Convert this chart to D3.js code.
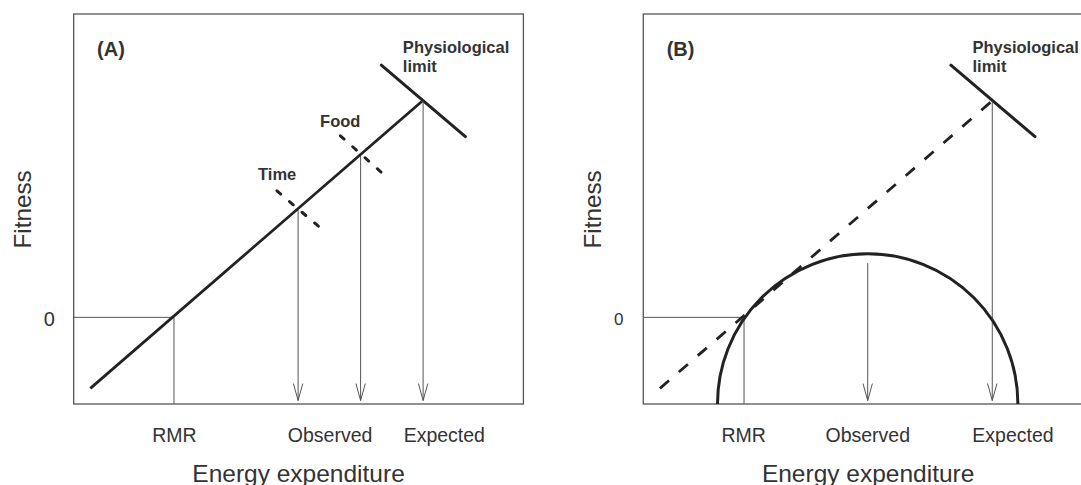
<!DOCTYPE html>
<html>
<head>
<meta charset="utf-8">
<script src="https://cdn.jsdelivr.net/npm/d3@7/dist/d3.min.js"></script>
<style>
    body { margin: 0; background: #fff; }
    svg { display: block; }
    text { font-family: 'Liberation Sans', Arial, sans-serif; fill: #333; }
</style>
</head>
<body>
<svg id="svg0" width="1081" height="485"></svg>
<script>

// values, in arbitrary energy (x) / fitness (y) units
var panelNames = ['(A)', '(B)'];
var tickLabels = ['RMR', 'Observed', 'Expected'];
var tickPosA = [2.23, 5.69, 8.23];
var tickPosB = [2.22, 4.98, 8.21];

var fitnessLine = [{x: 0.37, y: -1.64}, {x: 2.23, y: 0}, {x: 7.74, y: 4.98}];
var rmrA = {x: 2.23, y: 0};
var rmrB = {x: 2.24, y: 0};
var limitBar = [{x: 6.84, y: 5.82}, {x: 8.71, y: 4.17}];
var timeMark = [{x: 4.52, y: 2.92}, {x: 5.50, y: 2.05}];
var foodMark = [{x: 5.93, y: 4.19}, {x: 6.88, y: 3.31}];
var arrowsA = [{x: 4.99, y: 2.48}, {x: 6.38, y: 3.73}, {x: 7.77, y: 4.98}];
var arrowsB = [{x: 4.99, y: 1.25}, {x: 7.76, y: 4.98}];
var optimumArc = {x: 4.99, y: -2, r: 3.34};
var arrowFloor = -1.92;

var constraintLabels = [{text: 'Time', x: 4.10, y: 3.17}, {text: 'Food', x: 5.48, y: 4.39}];
var limitLabel = ['Physiological', 'limit'];
var limitLabelPos = {x: 7.32, y: 6.10};
var panelLabelPos = {x: 0.52, y: 6.02};

var x = d3.scaleLinear().domain([0, 10]).range([0, 449.7]);
var y = d3.scaleLinear().domain([-2, 7]).range([404, 14]);

var line = d3.line()
    .x(function(d){ return x(d.x); })
    .y(function(d){ return y(d.y); });

var svg = d3.select('#svg0');

function drawPanel(left, name, ticks, rmr, zeroSize){

    var g = svg.append('g')
        .attr('transform', 'translate(' + left + ',0)');

    //frame
    g.append('rect')
        .attr('x', x(0))
        .attr('y', y(7))
        .attr('width', x(10) - x(0))
        .attr('height', y(-2) - y(7))
        .attr('fill', 'none')
        .attr('stroke', '#555')
        .attr('stroke-width', 1.3);

    //zero fitness guide and RMR drop line
    g.append('path')
        .attr('d', line([{x: 0, y: 0}, rmr, {x: rmr.x, y: -2}]))
        .attr('fill', 'none')
        .attr('stroke', '#555')
        .attr('stroke-width', 1);

    //tick labels
    var xAxis = d3.axisBottom(x)
        .tickValues(ticks)
        .tickSize(0)
        .tickFormat(function(d, i){ return tickLabels[i]; });

    var ax = g.append('g')
        .attr('transform', 'translate(0,442)')
        .call(xAxis);
    ax.select('.domain').remove();
    ax.selectAll('text')
        .attr('y', 0)
        .attr('dy', null)
        .style('font-size', '19.5px');

    var yAxis = d3.axisLeft(y)
        .tickValues([0])
        .tickSize(0)
        .tickFormat(d3.format('d'));

    var ay = g.append('g').call(yAxis);
    ay.select('.domain').remove();
    ay.selectAll('text')
        .attr('x', -24.5)
        .attr('dy', zeroSize * 0.43)
        .attr('text-anchor', 'middle')
        .style('font-size', zeroSize + 'px');

    //axis titles
    g.append('text')
        .attr('x', (x(0) + x(10)) / 2)
        .attr('y', 481.5)
        .attr('text-anchor', 'middle')
        .style('font-size', '24.5px')
        .text('Energy expenditure');

    g.append('text')
        .attr('transform', 'translate(-42.2,' + y(2.49) + ') rotate(-90)')
        .attr('text-anchor', 'middle')
        .style('font-size', '24.3px')
        .text('Fitness');

    //panel letter
    g.append('text')
        .attr('x', x(panelLabelPos.x))
        .attr('y', y(panelLabelPos.y))
        .style('font-size', '20px')
        .style('font-weight', 'bold')
        .text(name);

    //physiological limit
    g.append('path')
        .attr('d', line(limitBar))
        .attr('stroke', '#222')
        .attr('stroke-width', 3)
        .attr('stroke-linecap', 'round');

    g.selectAll('.limitText')
        .data(limitLabel)
        .enter()
        .append('text')
        .attr('class', 'limitText')
        .attr('x', x(limitLabelPos.x))
        .attr('y', function(d, i){ return y(limitLabelPos.y) + i * 19; })
        .style('font-size', '16.5px')
        .style('font-weight', 'bold')
        .text(function(d){ return d; });

    return g;
}

function drawArrows(g, data){
    g.selectAll('.arrow')
        .data(data)
        .enter()
        .append('path')
        .attr('class', 'arrow')
        .attr('d', function(d){
            var tx = x(d.x), ty = y(arrowFloor);
            return 'M' + tx + ',' + y(d.y) + 'L' + tx + ',' + ty +
                'M' + (tx - 4.7) + ',' + (ty - 17) + 'L' + tx + ',' + ty + 'L' + (tx + 4.7) + ',' + (ty - 17);
        })
        .attr('fill', 'none')
        .attr('stroke', '#555')
        .attr('stroke-width', 1);
}

// panel A
var gA = drawPanel(73.7, panelNames[0], tickPosA, rmrA, 20);

drawArrows(gA, arrowsA);

gA.append('path')
    .attr('d', line([fitnessLine[0], fitnessLine[2]]))
    .attr('stroke', '#222')
    .attr('stroke-width', 2.8);

gA.selectAll('.constraint')
    .data([timeMark, foodMark])
    .enter()
    .append('path')
    .attr('class', 'constraint')
    .attr('d', function(d){ return line(d); })
    .attr('stroke', '#222')
    .attr('stroke-width', 3)
    .attr('stroke-linecap', 'round')
    .attr('stroke-dasharray', '5,11.5');

gA.selectAll('.constraintText')
    .data(constraintLabels)
    .enter()
    .append('text')
    .attr('class', 'constraintText')
    .attr('x', function(d){ return x(d.x); })
    .attr('y', function(d){ return y(d.y); })
    .style('font-size', '16.5px')
    .style('font-weight', 'bold')
    .text(function(d){ return d.text; });

// panel B
var gB = drawPanel(643.3, panelNames[1], tickPosB, rmrB, 17);

drawArrows(gB, arrowsB);

var arcPath = d3.path();
var cx = x(optimumArc.x), cy = y(optimumArc.y), r = x(optimumArc.r) - x(0);
arcPath.moveTo(cx - r, cy);
arcPath.arc(cx, cy, r, Math.PI, 2 * Math.PI);

gB.append('path')
    .attr('d', arcPath.toString())
    .attr('fill', 'none')
    .attr('stroke', '#222')
    .attr('stroke-width', 3);

gB.append('path')
    .attr('d', line([fitnessLine[0], fitnessLine[2]]))
    .attr('stroke', '#222')
    .attr('stroke-width', 2.8)
    .attr('stroke-dasharray', '12,13');

</script>
</body>
</html>
